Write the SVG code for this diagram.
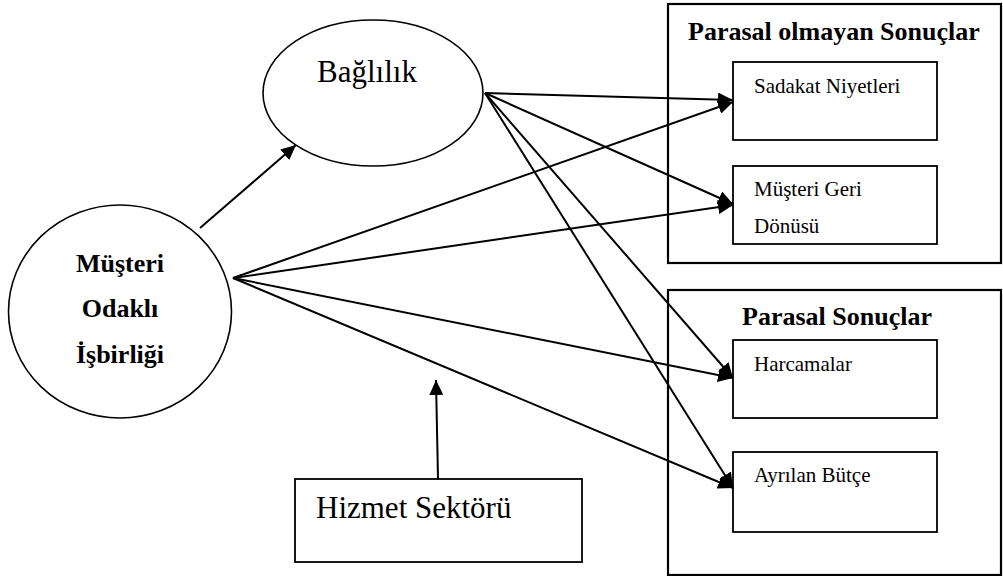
<svg xmlns="http://www.w3.org/2000/svg" width="1003" height="576" viewBox="0 0 1003 576">
  <style>
    .shape { fill: #fff; stroke: #000; stroke-width: 1.6; }
    .outer { fill: none; stroke: #000; stroke-width: 2.2; }
    .inner { fill: none; stroke: #000; stroke-width: 1.8; }
    .edge { fill: none; stroke: #000; stroke-width: 2; marker-end: url(#arrow); }
    text { font-family: "Liberation Serif", "Times New Roman", serif; fill: #000; }
    .big { font-size: 31px; }
    .bold { font-size: 26px; font-weight: bold; }
    .small { font-size: 21px; }
  </style>
  <defs>
    <marker id="arrow" markerUnits="userSpaceOnUse" markerWidth="16" markerHeight="14" refX="15" refY="7" orient="auto">
      <path d="M0,0 L15,7 L0,14 z" fill="#000"/>
    </marker>
  </defs>
  <rect width="1003" height="576" fill="#fff"/>

  <g id="node-baglilik">
    <ellipse class="shape" cx="373" cy="93" rx="110" ry="73"/>
    <text class="big" x="317" y="82">Bağlılık</text>
  </g>

  <g id="node-musteri-odakli">
    <ellipse class="shape" cx="120" cy="311.5" rx="111.5" ry="106.5"/>
    <text class="bold" x="120" y="272" text-anchor="middle">Müşteri</text>
    <text class="bold" x="120" y="317" text-anchor="middle">Odaklı</text>
    <text class="bold" x="120" y="363" text-anchor="middle">İşbirliği</text>
  </g>

  <g id="node-hizmet-sektoru">
    <rect class="inner" x="295" y="479" width="287" height="83"/>
    <text class="big" x="316" y="518">Hizmet Sektörü</text>
  </g>

  <g id="group-parasal-olmayan">
    <rect class="outer" x="668" y="4" width="333" height="259"/>
    <text class="bold" x="688" y="40">Parasal olmayan Sonuçlar</text>
  </g>
  <g id="node-sadakat">
    <rect class="inner" x="733" y="62" width="204" height="78"/>
    <text class="small" x="754" y="93">Sadakat Niyetleri</text>
  </g>
  <g id="node-geri-donusu">
    <rect class="inner" x="733" y="166" width="204" height="78"/>
    <text class="small" x="754" y="196">Müşteri Geri</text>
    <text class="small" x="754" y="233">Dönüsü</text>
  </g>

  <g id="group-parasal">
    <rect class="outer" x="668" y="290" width="333" height="285"/>
    <text class="bold" x="742" y="325">Parasal Sonuçlar</text>
  </g>
  <g id="node-harcamalar">
    <rect class="inner" x="733" y="340" width="204" height="78"/>
    <text class="small" x="754" y="371">Harcamalar</text>
  </g>
  <g id="node-ayrilan-butce">
    <rect class="inner" x="733" y="452" width="204" height="80"/>
    <text class="small" x="754" y="482">Ayrılan Bütçe</text>
  </g>

  <g id="connectors">
    <line class="edge" x1="200" y1="228" x2="296" y2="145"/>
    <line class="edge" x1="485" y1="93" x2="733" y2="100"/>
    <line class="edge" x1="485" y1="93" x2="733" y2="204"/>
    <line class="edge" x1="485" y1="93" x2="733" y2="378"/>
    <line class="edge" x1="485" y1="93" x2="733" y2="488"/>
    <line class="edge" x1="233" y1="278" x2="733" y2="102"/>
    <line class="edge" x1="233" y1="278" x2="733" y2="205"/>
    <line class="edge" x1="233" y1="278" x2="733" y2="378"/>
    <line class="edge" x1="233" y1="278" x2="733" y2="488"/>
    <line class="edge" x1="438" y1="479" x2="436" y2="380"/>
  </g>
</svg>
